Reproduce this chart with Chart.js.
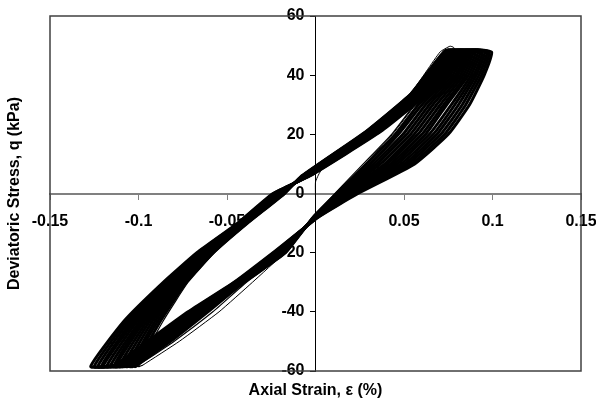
<!DOCTYPE html>
<html>
<head>
<meta charset="utf-8">
<script src="https://cdn.jsdelivr.net/npm/chart.js@4/dist/chart.umd.min.js"></script>
<style>
html,body{margin:0;padding:0;background:#fff;}
#wrap{width:596px;height:405px;}
</style>
</head>
<body>
<div id="wrap"><canvas id="c" width="596" height="405"></canvas></div>
<script>
// ---- data (strain in %, stress in kPa) ----
const X_TICK_LABELS = ["-0.15", "-0.1", "-0.05", "", "0.05", "0.1", "0.15"];
const Y_TICK_LABELS = ["-60", "-40", "-20", "0", "20", "40", "60"];

// initial monotonic loading from the origin (first cycle)
const FIRST_LOAD_X = [0, 0, 0.0016, 0.0044, 0.010, 0.018, 0.029, 0.0534, 0.0703, 0.076, 0.078];
const FIRST_LOAD_Q = [-1.5, 3.9, 6.2, 9.1, 12.5, 16.5, 21, 33.6, 47.8, 49.8, 49.4];

// stress levels along the loading and unloading branches
const LOAD_Q = [-58.5, -43, -30, -20, -10, 0, 6, 21, 33.5, 42, 48.5];
const UNLOAD_Q = [47.8, 40, 30, 20, 10, 0, -8, -20, -30, -40, -50, -58];

// first unloading branch (outlier line)
const FIRST_UNLOAD_X = [0.0795, 0.0725, 0.0565, 0.0435, 0.028, 0.0125, 0.0, -0.0175, -0.0356, -0.0545, -0.077, -0.0975];

// strain on each later loading branch, one row per cycle
const LOAD_X = [
  [-0.100, -0.086, -0.072, -0.057, -0.038, -0.017, -0.008, 0.028, 0.053, 0.064, 0.073],
  [-0.102, -0.0875, -0.073, -0.0577, -0.0384, -0.0175, -0.0077, 0.0286, 0.0537, 0.065, 0.074],
  [-0.104, -0.089, -0.074, -0.0583, -0.0388, -0.0179, -0.0073, 0.0292, 0.0543, 0.066, 0.075],
  [-0.105, -0.0905, -0.075, -0.0594, -0.0392, -0.0184, -0.007, 0.0298, 0.055, 0.067, 0.0765],
  [-0.107, -0.092, -0.0755, -0.0597, -0.0396, -0.0189, -0.0067, 0.0304, 0.0557, 0.0679, 0.0775],
  [-0.109, -0.0935, -0.0765, -0.0603, -0.0397, -0.0193, -0.0063, 0.031, 0.0563, 0.0685, 0.079],
  [-0.111, -0.095, -0.0775, -0.061, -0.0404, -0.0198, -0.006, 0.0316, 0.057, 0.0695, 0.080],
  [-0.113, -0.0965, -0.0785, -0.0617, -0.0408, -0.0203, -0.0057, 0.0319, 0.0577, 0.0705, 0.081],
  [-0.114, -0.098, -0.0795, -0.0623, -0.0412, -0.0207, -0.0053, 0.0328, 0.0583, 0.0715, 0.082],
  [-0.116, -0.099, -0.0805, -0.063, -0.0416, -0.0212, -0.005, 0.0334, 0.0594, 0.0725, 0.0835],
  [-0.118, -0.1005, -0.0815, -0.0637, -0.042, -0.0217, -0.0049, 0.034, 0.0597, 0.0735, 0.0845],
  [-0.120, -0.102, -0.0821, -0.0643, -0.0424, -0.0221, -0.0043, 0.0346, 0.0603, 0.0745, 0.0855],
  [-0.121, -0.1035, -0.083, -0.065, -0.0428, -0.0226, -0.004, 0.0352, 0.061, 0.075, 0.087],
  [-0.123, -0.105, -0.084, -0.0657, -0.0432, -0.0228, -0.0037, 0.0358, 0.0617, 0.076, 0.088],
  [-0.125, -0.1065, -0.085, -0.0663, -0.0436, -0.0235, -0.0033, 0.0364, 0.0623, 0.077, 0.089],
  [-0.127, -0.108, -0.086, -0.067, -0.044, -0.024, -0.003, 0.037, 0.063, 0.078, 0.090]
];

// strain on each later unloading branch, one row per cycle
const UNLOAD_X = [
  [0.080, 0.073, 0.056, 0.043, 0.027, 0.011, -0.0015, -0.0165, -0.039, -0.058, -0.080, -0.100],
  [0.0813, 0.0745, 0.0581, 0.0451, 0.0289, 0.0119, -0.0013, -0.017, -0.0404, -0.0608, -0.0819, -0.1009],
  [0.0826, 0.076, 0.0601, 0.0468, 0.0309, 0.0127, -0.0011, -0.0175, -0.0408, -0.0616, -0.0829, -0.1017],
  [0.0839, 0.0775, 0.0622, 0.0494, 0.0328, 0.0136, -0.0009, -0.018, -0.0412, -0.0624, -0.0838, -0.1026],
  [0.0852, 0.079, 0.0643, 0.0515, 0.0347, 0.0149, -0.0007, -0.0185, -0.0416, -0.0632, -0.0847, -0.1035],
  [0.0865, 0.0804, 0.0663, 0.0537, 0.0367, 0.0153, -0.0005, -0.019, -0.042, -0.064, -0.0857, -0.1043],
  [0.0878, 0.0819, 0.0684, 0.0558, 0.0391, 0.0162, -0.0003, -0.0195, -0.0424, -0.0648, -0.0866, -0.1052],
  [0.0891, 0.0834, 0.0705, 0.0579, 0.0405, 0.0171, -0.0001, -0.020, -0.0428, -0.0656, -0.0875, -0.1061],
  [0.0904, 0.0849, 0.0725, 0.0601, 0.0425, 0.0179, 0.0001, -0.0205, -0.0432, -0.0664, -0.0885, -0.1069],
  [0.0917, 0.0864, 0.0741, 0.0622, 0.0444, 0.0188, 0.0003, -0.021, -0.0436, -0.0672, -0.0894, -0.1078],
  [0.093, 0.0879, 0.0767, 0.0643, 0.0463, 0.0197, 0.0005, -0.0215, -0.044, -0.068, -0.0903, -0.1087],
  [0.0943, 0.0894, 0.0787, 0.0665, 0.0483, 0.0205, 0.0007, -0.022, -0.0444, -0.0688, -0.0913, -0.1095],
  [0.0956, 0.0908, 0.0808, 0.0686, 0.0502, 0.0214, 0.0009, -0.0225, -0.0448, -0.0691, -0.0922, -0.1104],
  [0.0969, 0.0923, 0.0829, 0.0707, 0.0521, 0.0223, 0.0011, -0.023, -0.0452, -0.0704, -0.0931, -0.1113],
  [0.0982, 0.0938, 0.0849, 0.0729, 0.0541, 0.0231, 0.0013, -0.0235, -0.0456, -0.0712, -0.0941, -0.1121],
  [0.0995, 0.0953, 0.087, 0.075, 0.056, 0.024, 0.0015, -0.024, -0.046, -0.072, -0.095, -0.113]
];

// ---- build datasets ----
function pts(xs, qs) { return xs.map((x, i) => ({ x: x, y: qs[i] })); }
const datasets = [];
let first = pts(FIRST_LOAD_X, FIRST_LOAD_Q).concat(pts(FIRST_UNLOAD_X, UNLOAD_Q));
datasets.push({ data: first, borderWidth: 1 });
let prev = first[first.length - 1];
for (let j = 0; j < LOAD_X.length; j++) {
  const d = [prev].concat(pts(LOAD_X[j], LOAD_Q), pts(UNLOAD_X[j], UNLOAD_Q));
  datasets.push({ data: d, borderWidth: j < 1 ? 1.2 : 3 });
  prev = d[d.length - 1];
}
datasets.forEach(ds => {
  ds.showLine = true; ds.pointRadius = 0; ds.borderColor = '#000';
  ds.backgroundColor = '#000'; ds.tension = 0.15; ds.fill = false;
  ds.borderJoinStyle = 'round';
});

const FONT = "'Liberation Sans', Arial, sans-serif";

const framePlugin = {
  id: 'frame',
  afterDatasetsDraw(chart) {
    const a = chart.chartArea, ctx = chart.ctx;
    ctx.save();
    ctx.strokeStyle = '#404040';
    ctx.lineWidth = 1.5;
    ctx.strokeRect(a.left, a.top, a.right - a.left, a.bottom - a.top);
    ctx.restore();
  },
  afterDraw(chart) {
    const a = chart.chartArea, ctx = chart.ctx;
    ctx.save();
    ctx.fillStyle = '#000';
    ctx.font = 'bold 16px ' + FONT;
    ctx.textAlign = 'center';
    ctx.textBaseline = 'middle';
    ctx.fillText('Axial Strain, ε (%)', (a.left + a.right) / 2, 391);
    ctx.translate(15, (a.top + a.bottom) / 2);
    ctx.rotate(-Math.PI / 2);
    ctx.fillText('Deviatoric Stress, q (kPa)', 0, 0);
    ctx.restore();
  }
};

new Chart(document.getElementById('c'), {
  type: 'scatter',
  data: { datasets: datasets },
  options: {
    responsive: false,
    animation: false,
    devicePixelRatio: 1,
    layout: { padding: { left: 50, right: 15, top: 16, bottom: 34 } },
    plugins: { legend: { display: false }, tooltip: { enabled: false } },
    scales: {
      x: {
        type: 'linear', position: 'center', min: -0.15, max: 0.15,
        afterFit: (s) => { s.paddingLeft = 0; s.paddingRight = 0; },
        ticks: {
          stepSize: 0.05, autoSkip: false, maxRotation: 0, padding: 13,
          color: '#000', font: { family: FONT, size: 16, weight: 'bold' },
          callback: (v, i) => X_TICK_LABELS[i]
        },
        grid: { display: true, drawOnChartArea: false, drawTicks: true, tickLength: 5, color: '#808080', lineWidth: 1 },
        border: { display: true, color: '#808080', width: 2 }
      },
      y: {
        type: 'linear', position: 'center', min: -60, max: 60,
        afterFit: (s) => { s.paddingTop = 0; s.paddingBottom = 0; },
        ticks: {
          stepSize: 20, autoSkip: false, padding: 6,
          color: '#000', font: { family: FONT, size: 16, weight: 'bold' },
          callback: (v, i) => Y_TICK_LABELS[i]
        },
        grid: { display: true, drawOnChartArea: false, drawTicks: true, tickLength: 5, color: '#000', lineWidth: 1 },
        border: { display: true, color: '#000', width: 1 }
      }
    }
  },
  plugins: [framePlugin]
});
</script>
</body>
</html>
